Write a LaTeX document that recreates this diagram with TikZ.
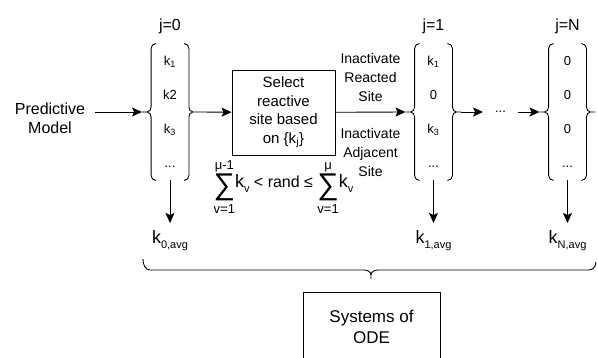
\documentclass[tikz,border=0pt]{standalone}
\usepackage{fontspec}
\setmainfont{Liberation Sans}
\usepackage{amsmath}
\usetikzlibrary{positioning,arrows.meta}
\newcommand{\ksub}[1]{{\fontsize{18}{18}\selectfont k}\raisebox{-5pt}{\fontsize{11}{11}\selectfont #1}}
\newcommand{\sumop}[2]{\mathop{\text{\raisebox{-7pt}{\fontsize{30}{30}\selectfont ∑}}}\limits_{\text{\fontsize{13}{13}\selectfont #1}}^{\text{\fontsize{13}{13}\selectfont #2}}}

\begin{document}
\begin{tikzpicture}[x=1pt,y=-1pt,line width=0.9pt,
arr/.style={draw,-{Stealth[length=10pt,width=9pt,inset=2pt]}},
col/.style={minimum width=37pt,minimum height=136pt,inner sep=0pt,align=center,
    font=\fontsize{13}{34}\selectfont},
jlab/.style={font=\fontsize{16}{16}\selectfont,anchor=base},
avg/.style={inner xsep=1pt,inner ysep=7pt},
box/.style={draw,rectangle,align=center}]
\useasboundingbox (0,0) rectangle (598,358);
\node (pm) [align=center,font=\fontsize{16}{19}\selectfont] at (50,118) {Predictive\\Model};
\node (c0) [col] at (170,112) {k\textsubscript{1}\\k2\\k\textsubscript{3}\\...};
\node (sel) [box,minimum width=103pt,minimum height=85pt,font=\fontsize{15}{18.5}\selectfont]
    at (283.5,112.5) {Select\\reactive\\site based\\on \{k\textsubscript{j}\}};
\node (c1) [col] at (433.5,112) {k\textsubscript{1}\\0\\k\textsubscript{3}\\...};
\node (dots) [minimum width=34pt,font=\fontsize{13}{14}\selectfont] at (500.5,112) {...};
\node (cN) [col] at (567.5,112) {0\\0\\0\\...};
\node (j0) [jlab] at (170,31) {j=0};
\node (j1) [jlab] at (433.5,31) {j=1};
\node (jN) [jlab] at (567.5,31) {j=N};
\node (f) [below=0pt of sel,font=\fontsize{16}{18}\selectfont]
    {$\sumop{v=1}{μ-1}$\ksub{v} < rand ≤ $\sumop{v=1}{μ}$\ksub{v}};
\node (a0) [avg,below=43pt of c0] {\ksub{0,avg}};
\node (a1) [avg,below=43pt of c1] {\ksub{1,avg}};
\node (aN) [avg,below=43pt of cN] {\ksub{N,avg}};
\node (ode) [box,minimum width=137pt,minimum height=70pt,font=\fontsize{17}{21}\selectfont]
    at (371.5,327) {Systems of\\ODE};

\foreach \n in {c0,c1,cN} {
  \draw ([xshift=5pt]\n.north west) to[out=180,in=90] ([yshift=-5pt]\n.north west)
    -- ([yshift=5pt]\n.west) to[out=-90,in=0] ([xshift=-4pt]\n.west) -- ([xshift=-9pt]\n.west)
    ([xshift=-4pt]\n.west) to[out=0,in=90] ([yshift=-5pt]\n.west)
    -- ([yshift=5pt]\n.south west) to[out=-90,in=180] ([xshift=5pt]\n.south west);
  \draw ([xshift=-5pt]\n.north east) to[out=0,in=90] ([yshift=-5pt]\n.north east)
    -- ([yshift=5pt]\n.east) to[out=-90,in=180] ([xshift=4pt]\n.east) -- ([xshift=9pt]\n.east)
    ([xshift=4pt]\n.east) to[out=180,in=90] ([yshift=-5pt]\n.east)
    -- ([yshift=5pt]\n.south east) to[out=-90,in=0] ([xshift=-5pt]\n.south east);
  \draw[arr] (\n.south) -- (\n.south |- 0,223);
}

\draw[arr,shorten <=6pt] (pm.east |- c0.west) -- ([xshift=-9pt]c0.west);
\draw[arr] ([xshift=9pt]c0.east) -- (sel);
\draw[arr] (sel) -- ([xshift=-9pt]c1.west)
  node (rs) [midway,above=7pt,align=center,font=\fontsize{14}{19}\selectfont] {Inactivate\\Reacted\\Site}
  node (as) [midway,below=12pt,align=center,font=\fontsize{14}{19}\selectfont] {Inactivate\\Adjacent\\Site};
\draw[arr] ([xshift=9pt]c1.east) -- (dots);
\draw[arr] (dots) -- ([xshift=-9pt]cN.west);

\draw (143,259) to[out=-90,in=180] (150,270) -- (364,270) to[out=0,in=90] (371,275) -- (371,279)
  (371,275) to[out=90,in=180] (378,270) -- (589,270) to[out=0,in=-90] (596,262);
\end{tikzpicture}
\end{document}
